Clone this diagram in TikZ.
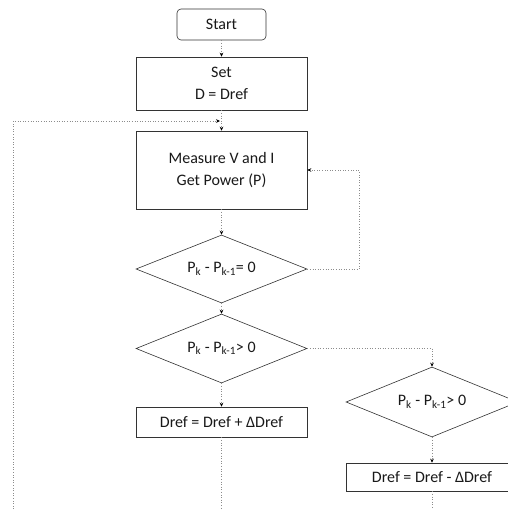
\documentclass[tikz,border=0pt]{standalone}
\usepackage{fontspec}
\setmainfont{Carlito}
\usetikzlibrary{shapes.geometric,arrows.meta}
\begin{document}
\begin{tikzpicture}[x=1pt,y=-1pt,
  every node/.style={font=\fontsize{16}{22}\selectfont, text=black!90, align=center, inner sep=0pt},
  boxnode/.style={draw=black!80, line width=0.6pt, rectangle},
  startnode/.style={draw=black!80, line width=0.6pt, rectangle, rounded corners=4pt},
  decnode/.style={draw=black!80, line width=0.6pt, diamond, aspect=2.5},
  conn/.style={draw=black!45, dotted, line width=0.6pt},
  arr/.style={conn, -{Stealth[length=4pt,width=3.6pt,black]}}
]
\useasboundingbox (0,0) rectangle (507,509);
\fill[white] (0,0) rectangle (507,509);

\node[startnode, minimum width=89pt, minimum height=31pt] (start) at (221.5,24.5) {Start};
\node[boxnode, minimum width=171pt, minimum height=53pt] (set) at (221.5,83.5) {Set\\D = Dref};
\node[boxnode, minimum width=171pt, minimum height=78pt] (meas) at (221.5,170) {Measure V and I\\Get Power (P)};
\node[decnode, minimum width=171pt, minimum height=68pt] (d1) at (221.5,269) {P\textsubscript{k} - P\textsubscript{k-1}= 0};
\node[decnode, minimum width=171pt, minimum height=69pt] (d2) at (221.5,348.5) {P\textsubscript{k} - P\textsubscript{k-1}> 0};
\node[boxnode, minimum width=171pt, minimum height=30pt] (inc) at (221.5,422) {Dref = Dref + ΔDref};
\node[decnode, minimum width=172pt, minimum height=70pt] (d3) at (432,402) {P\textsubscript{k} - P\textsubscript{k-1}> 0};
\node[boxnode, minimum width=172pt, minimum height=28pt] (dec) at (432,477) {Dref = Dref - ΔDref};

\coordinate (loopin) at (220,121);
\coordinate (loopbl) at (13,509);
\coordinate (loopt) at (13,121);
\coordinate (r1) at (359,269);
\coordinate (r2) at (359,170);
\coordinate (incend) at (221.5,509);
\coordinate (decend) at (432,509);

\draw[arr] (start) -- (set);
\draw[arr] (set) -- (meas);
\draw[arr] (loopbl) -- (loopt) -- (loopin);
\draw[arr] (meas) -- (d1);
\draw[arr] (d1.east) -- (r1) -- (r2) -- (meas.east);
\draw[arr] (d1) -- (d2);
\draw[arr] (d2) -- (inc);
\draw[arr] (d2.east) -| (d3.north);
\draw[arr] (d3) -- (dec);
\draw[conn] (inc) -- (incend);
\draw[conn] (dec) -- (decend);
\end{tikzpicture}
\end{document}
